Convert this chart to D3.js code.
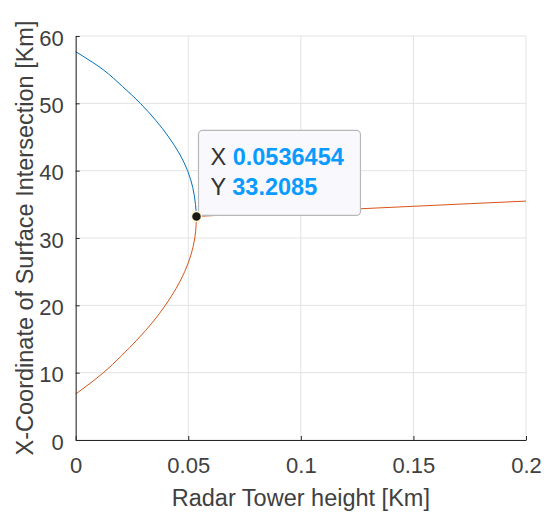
<!DOCTYPE html>
<html>
<head>
<meta charset="utf-8">
<script src="https://cdn.jsdelivr.net/npm/d3@7"></script>
<style>
	body { margin: 0; background: #fff; }
	text { font-family: "Liberation Sans", Arial, Helvetica, sans-serif; }
</style>
</head>
<body>
<svg id="main_svg"></svg>
<script>
const WIDTH = 544;
const HEIGHT = 515;
const MARGIN_LEFT = 75.7;
const MARGIN_RIGHT = 18;
const MARGIN_TOP = 36;
const MARGIN_BOTTOM = 75;

// Upper root (blue): tower height vs x-coordinate
const blue_h = [0, 0.0122, 0.0208, 0.0287, 0.0355, 0.0413, 0.0461, 0.0497, 0.0520, 0.0532, 0.0536454];
const blue_y = [57.67, 55, 52.5, 50, 47.5, 45, 42.5, 40, 37.5, 35, 33.2085];

// Lower root (orange), below the tangent point
const orange_low_h = [0, 0.0123, 0.0203, 0.0276, 0.0342, 0.0398, 0.0446, 0.0484, 0.0512, 0.0529, 0.0535, 0.0536454];
const orange_low_y = [6.83, 10, 12.5, 15, 17.5, 20, 22.5, 25, 27.5, 30, 32, 33.2085];

// Orange continuation after the tangent point
const orange_high_h = [0.0536454, 0.08, 0.1, 0.125, 0.15, 0.175, 0.2];
const orange_high_y = [33.2085, 33.62, 33.93, 34.32, 34.71, 35.10, 35.48];

const x_ticks = [0, 0.05, 0.1, 0.15, 0.2];
const y_ticks = [0, 10, 20, 30, 40, 50, 60];

const tip_point = [0.0536454, 33.2085];

const svg = d3.select('#main_svg').attr('width', WIDTH).attr('height', HEIGHT);

const x_scale = d3.scaleLinear().domain([0, 0.2]).range([MARGIN_LEFT, WIDTH - MARGIN_RIGHT]);
const y_scale = d3.scaleLinear().domain([0, 60]).range([HEIGHT - MARGIN_BOTTOM, MARGIN_TOP]);

// grid
const grid = svg.append('g').attr('stroke', '#e3e3e3').attr('stroke-width', 1);
grid.selectAll('.vgrid').data(x_ticks).enter().append('line')
	.attr('x1', d => x_scale(d)).attr('x2', d => x_scale(d))
	.attr('y1', MARGIN_TOP).attr('y2', HEIGHT - MARGIN_BOTTOM);
grid.selectAll('.hgrid').data(y_ticks).enter().append('line')
	.attr('x1', MARGIN_LEFT).attr('x2', WIDTH - MARGIN_RIGHT)
	.attr('y1', d => y_scale(d)).attr('y2', d => y_scale(d));

// curves
const zip = (a, b) => a.map((e, i) => [e, b[i]]);

const line_y = d3.line()
	.x(d => x_scale(d[0]))
	.y(d => y_scale(d[1]))
	.curve(d3.curveMonotoneY);
const line_x = d3.line()
	.x(d => x_scale(d[0]))
	.y(d => y_scale(d[1]))
	.curve(d3.curveMonotoneX);

svg.append('path')
	.datum(zip(blue_h, blue_y).reverse())
	.attr('fill', 'none').attr('stroke', '#0072BD').attr('stroke-width', 1)
	.attr('d', line_y);

svg.append('path')
	.datum(zip(orange_low_h, orange_low_y))
	.attr('fill', 'none').attr('stroke', '#D95319').attr('stroke-width', 1)
	.attr('d', line_y);

svg.append('path')
	.datum(zip(orange_high_h, orange_high_y))
	.attr('fill', 'none').attr('stroke', '#D95319').attr('stroke-width', 1)
	.attr('d', line_x);

// axes
const x_axis = svg.append('g')
	.attr('transform', `translate(0,${HEIGHT - MARGIN_BOTTOM})`)
	.call(d3.axisBottom(x_scale).tickValues(x_ticks).tickFormat(d => d)
		.tickSizeInner(-4).tickSizeOuter(0).tickPadding(17));
const y_axis = svg.append('g')
	.attr('transform', `translate(${MARGIN_LEFT},0)`)
	.call(d3.axisLeft(y_scale).tickValues(y_ticks)
		.tickSizeInner(-4).tickSizeOuter(0).tickPadding(12));

[x_axis, y_axis].forEach(ax => {
	ax.select('.domain').attr('stroke', '#262626');
	ax.selectAll('.tick line').attr('stroke', '#262626');
	ax.selectAll('.tick text').attr('fill', '#404040').attr('font-size', '22px')
		.attr('font-family', '"Liberation Sans", Arial, sans-serif');
});
y_axis.selectAll('.tick text').attr('dy', '0.42em');

svg.append('text')
	.attr('x', (MARGIN_LEFT + WIDTH - MARGIN_RIGHT) / 2)
	.attr('y', 506)
	.attr('text-anchor', 'middle')
	.attr('font-size', '23.5px')
	.attr('fill', '#404040')
	.text('Radar Tower height [Km]');

svg.append('text')
	.attr('text-anchor', 'middle')
	.attr('font-size', '23.5px')
	.attr('fill', '#404040')
	.attr('transform', `translate(33, ${(MARGIN_TOP + HEIGHT - MARGIN_BOTTOM) / 2}) rotate(-90)`)
	.text('X-Coordinate of Surface Intersection [Km]');

// data tip
const px = x_scale(tip_point[0]);
const py = y_scale(tip_point[1]);

const tip = svg.append('g');
tip.append('rect')
	.attr('x', px + 2).attr('y', py - 86)
	.attr('width', 162).attr('height', 85)
	.attr('rx', 4)
	.attr('fill', '#f9f9fd')
	.attr('stroke', '#b8b8b8')
	.attr('stroke-width', 1.2);

const rows = [['X', tip_point[0]], ['Y', tip_point[1]]];
rows.forEach((r, i) => {
	const t = tip.append('text')
		.attr('x', px + 14)
		.attr('y', py - 51 + i * 29.5)
		.attr('font-size', '23.5px');
	t.append('tspan').attr('fill', '#333').text(r[0] + ' ');
	t.append('tspan').attr('fill', '#0a9bff').attr('font-weight', 'bold').text(r[1]);
});

svg.append('circle')
	.attr('cx', px).attr('cy', py).attr('r', 5)
	.attr('fill', '#1a1a1a')
	.attr('stroke', '#fbf6c8')
	.attr('stroke-width', 1.5);
</script>
</body>
</html>
